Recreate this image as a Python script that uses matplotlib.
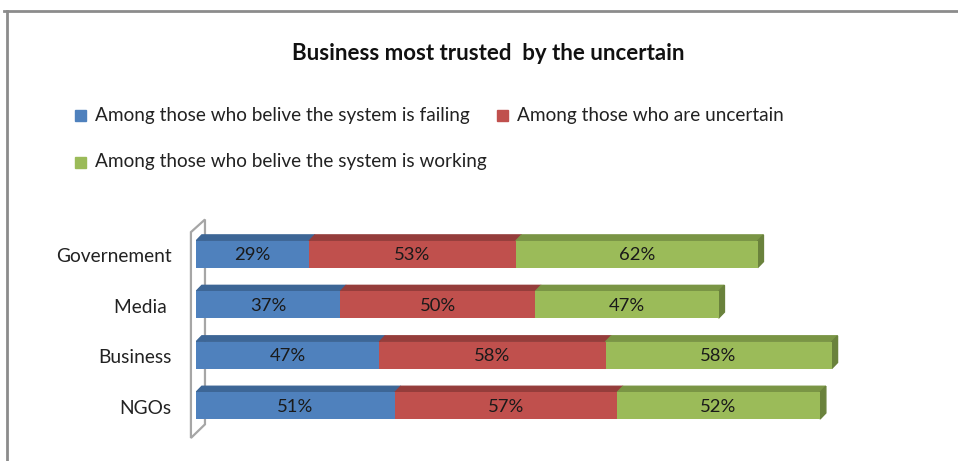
import numpy as np
import matplotlib
matplotlib.use('Agg')
import matplotlib.pyplot as plt
from matplotlib.patches import Polygon, Rectangle
from matplotlib.lines import Line2D

plt.rcParams['font.family'] = ['Lato', 'DejaVu Sans']

categories = ['Governement', 'Media ', 'Business', 'NGOs']
failing = [29, 37, 47, 51]
uncertain = [53, 50, 58, 57]
working = [62, 47, 58, 52]
series_names = ['Among those who belive the system is failing',
                'Among those who are uncertain',
                'Among those who belive the system is working']

colors = ['#4F81BD', '#C0504D', '#9BBB59']
tops = ['#3D6696', '#953D3B', '#7A9545']
ends = ['#34577F', '#7E3230', '#6A823C']

W, H = 958, 461
fig = plt.figure(figsize=(W / 100, H / 100), dpi=100)

# outer chart frame (top and left edges only)
fig.add_artist(Line2D([4 / W, 1], [1 - 11 / H, 1 - 11 / H], color='#8C8C8C', lw=2))
fig.add_artist(Line2D([7 / W, 7 / W], [0, 1 - 11 / H], color='#8C8C8C', lw=2))

fig.text(488 / W, 1 - 53 / H, 'Business most trusted  by the uncertain',
         ha='center', va='center', fontsize=16, fontweight='bold', color='#111111')

# legend drawn by hand: two items on first row, one below
legend_pos = [(75, 115), (497, 115), (75, 162)]
for (px, py), c, name in zip(legend_pos, colors, series_names):
    fig.add_artist(Rectangle((px / W, 1 - (py + 6) / H), 11 / W, 11 / H,
                             transform=fig.transFigure, color=c))
    fig.text((px + 20) / W, 1 - py / H, name, ha='left', va='center',
             fontsize=13.7, color='#222222')

ax = fig.add_axes([196 / W, 20 / H, 702 / W, 222 / H])
ax.set_xlim(0, 180)
ax.set_ylim(3.7, -0.7)
ax.axis('off')

y = np.arange(len(categories))
h = 0.53
dx, dy = 1.5, 0.12

# side wall behind the bars
n = len(categories)
wall = Polygon([(-1.3, -0.44), (2.3, -0.69), (2.3, n - 1 + 0.37), (-1.3, n - 1 + 0.64)],
               closed=True, facecolor='white', edgecolor='#A6A6A6', lw=1.6,
               zorder=0, clip_on=False)
ax.add_patch(wall)

left = np.zeros(n)
stack = [failing, uncertain, working]
for k, vals in enumerate(stack):
    vals = np.array(vals)
    ax.barh(y, vals, left=left, height=h, color=colors[k], zorder=2)
    for i in range(n):
        x0, x1 = left[i], left[i] + vals[i]
        yt = y[i] - h / 2
        ax.add_patch(Polygon([(x0, yt), (x1, yt), (x1 + dx, yt - dy), (x0 + dx, yt - dy)],
                             closed=True, color=tops[k], zorder=1))
        if k == len(stack) - 1:
            yb = y[i] + h / 2
            ax.add_patch(Polygon([(x1, yt), (x1 + dx, yt - dy), (x1 + dx, yb - dy), (x1, yb)],
                                 closed=True, color=ends[k], zorder=1))
        ax.text((x0 + x1) / 2, y[i] + 0.02, f'{vals[i]}%', ha='center', va='center',
                fontsize=13.3, color='#1a1a1a', zorder=3)
    left = left + vals

for i, cat in enumerate(categories):
    ax.text(-6.2, y[i] + 0.05, cat, ha='right', va='center', fontsize=13.8,
            color='#222222', clip_on=False)

fig.savefig('out.png', dpi=100)
